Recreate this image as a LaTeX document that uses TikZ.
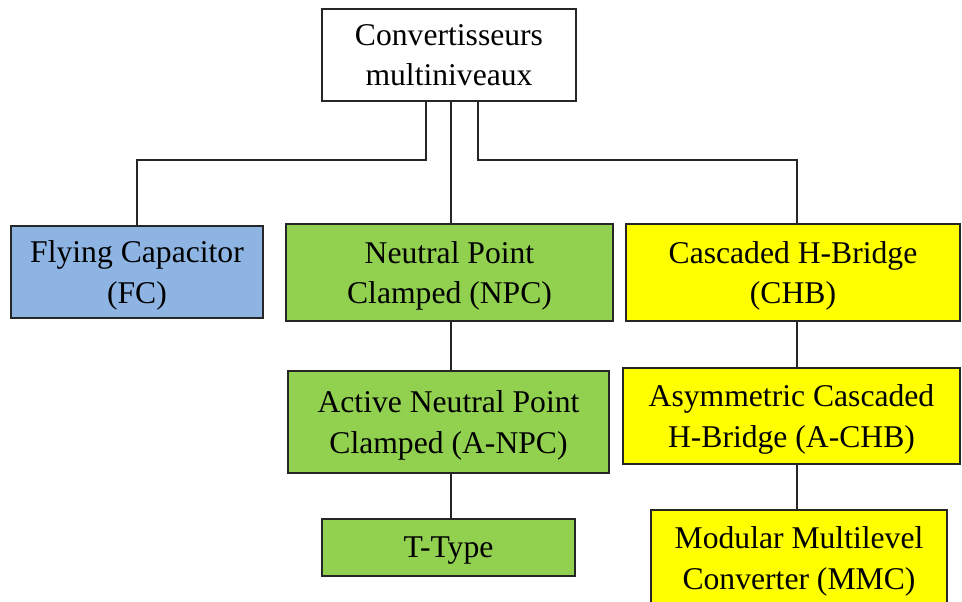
\documentclass[tikz,border=0pt]{standalone}
\usepackage{fontspec}
\setmainfont{Liberation Serif}
\usepackage{tikz}
\usetikzlibrary{positioning,calc}

\definecolor{fcblue}{HTML}{8DB4E2}
\definecolor{npcgreen}{HTML}{92D050}
\definecolor{chbyellow}{HTML}{FFFF00}
\definecolor{edge}{HTML}{262626}

\begin{document}
\begin{tikzpicture}[x=0.025cm, y=-0.025cm,
    conv/.style={draw=edge, line width=0.9pt, align=center, inner sep=0pt,
        text depth=-2pt, font=\fontsize{22.5}{28.5}\selectfont},
    link/.style={draw=edge, line width=0.9pt}]
\useasboundingbox (0,0) rectangle (962,601);

% root
\node[conv, fill=white, minimum width=254*0.025cm, minimum height=92*0.025cm] (top) at (449,55) {Convertisseurs\\multiniveaux};

% first level
\node[conv, fill=fcblue, minimum width=252*0.025cm, minimum height=92*0.025cm] (fc) at (137,272) {Flying Capacitor\\(FC)};
\node[conv, fill=npcgreen, minimum width=327*0.025cm, minimum height=97*0.025cm] (npc) at (449.5,272.5) {Neutral Point\\Clamped (NPC)};
\node[conv, fill=chbyellow, minimum width=334*0.025cm, minimum height=97*0.025cm] (chb) at (793,272.5) {Cascaded H-Bridge\\(CHB)};

% npc branch
\node[conv, fill=npcgreen, minimum width=321*0.025cm, minimum height=102*0.025cm] (anpc) at (448.5,422) {Active Neutral Point\\Clamped (A-NPC)};
\node[conv, fill=npcgreen, minimum width=253*0.025cm, minimum height=57*0.025cm] (ttype) at (448.5,547.5) {T-Type};

% chb branch
\node[conv, fill=chbyellow, minimum width=337*0.025cm, minimum height=96*0.025cm] (achb) at (791.5,416) {Asymmetric Cascaded\\H-Bridge (A-CHB)};
\node[conv, fill=chbyellow, minimum width=296*0.025cm, minimum height=96*0.025cm] (mmc) at (799,558) {Modular Multilevel\\Converter (MMC)};

% connector bends
\coordinate (lx) at (426,160);
\coordinate (rx) at (478,160);
\coordinate (cx) at (451,0);
\coordinate (hx) at (797,0);

\draw[link] (top.south -| lx) -- (lx) -| (fc.north);
\draw[link] (top.south -| cx) -- (npc.north -| cx);
\draw[link] (top.south -| rx) -- (rx) -| (chb.north -| hx);
\draw[link] (npc.south -| cx) -- (anpc.north -| cx);
\draw[link] (anpc.south -| cx) -- (ttype.north -| cx);
\draw[link] (chb.south -| hx) -- (achb.north -| hx);
\draw[link] (achb.south -| hx) -- (mmc.north -| hx);

\end{tikzpicture}
\end{document}
